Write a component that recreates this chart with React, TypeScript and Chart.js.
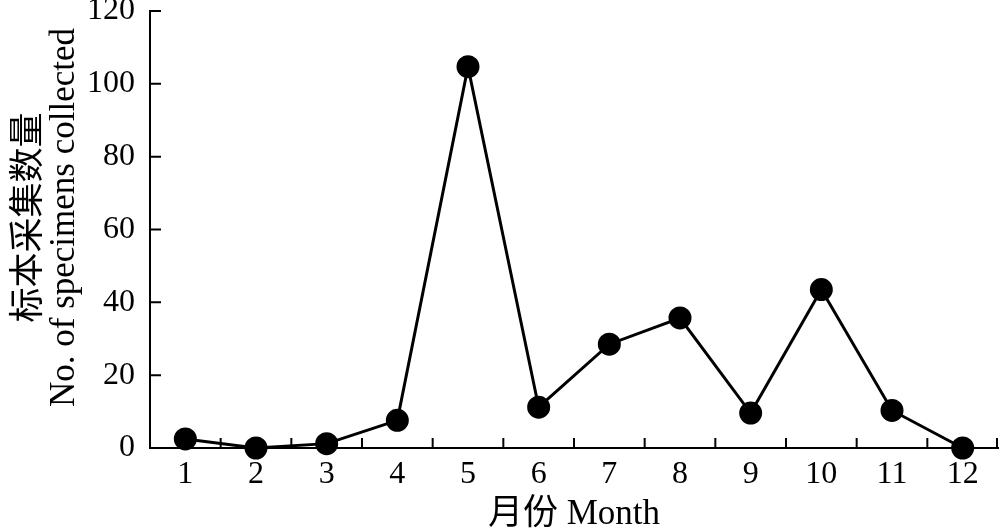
import React, { useEffect, useRef } from "react";
import { Chart, registerables } from "chart.js";

Chart.register(...registerables);

const months = ["1", "2", "3", "4", "5", "6", "7", "8", "9", "10", "11", "12"];
const specimens = [2.5, 0, 1.2, 7.6, 104.7, 11.2, 28.5, 35.7, 9.6, 43.5, 10.3, 0];
const yTickValues = [20, 40, 60, 80, 100, 120];
const yTitleLines = ["标本采集数量", "No. of specimens collected"];
const xTitle = "月份 Month";

const FONT = "'Liberation Serif', 'Times New Roman', 'Noto Sans CJK SC', serif";

const innerTicksPlugin = {
  id: "innerTicks",
  afterDraw(chart: any) {
    const ctx = chart.ctx;
    const x = chart.scales.x;
    const y = chart.scales.y;
    const area = chart.chartArea;
    ctx.save();
    ctx.strokeStyle = "#000";
    ctx.lineWidth = 2;
    ctx.beginPath();
    for (let i = 0; i < months.length; i++) {
      const px =
        i < months.length - 1
          ? (x.getPixelForValue(i) + x.getPixelForValue(i + 1)) / 2
          : area.right - 1;
      ctx.moveTo(px, area.bottom);
      ctx.lineTo(px, area.bottom - 10);
    }
    yTickValues.forEach((v) => {
      const py = y.getPixelForValue(v);
      ctx.moveTo(area.left, py);
      ctx.lineTo(area.left + 11, py);
    });
    ctx.stroke();

    ctx.fillStyle = "#000";
    ctx.font = `35px ${FONT}`;
    ctx.textAlign = "center";
    ctx.textBaseline = "middle";
    ctx.fillText(xTitle, (area.left + area.right) / 2, 515);
    const cy = (area.top + area.bottom) / 2 - 12;
    ctx.translate(30, cy);
    ctx.rotate(-Math.PI / 2);
    ctx.fillText(yTitleLines[0], 0, 0);
    ctx.fillText(yTitleLines[1], 0, 35);
    ctx.restore();
  },
};

export default function App() {
  const ref = useRef<HTMLCanvasElement | null>(null);
  useEffect(() => {
    if (!ref.current) return;
    const chart = new Chart(ref.current, {
      type: "line",
      data: {
        labels: months,
        datasets: [
          {
            data: specimens,
            borderColor: "#000",
            backgroundColor: "#000",
            borderWidth: 3,
            pointRadius: 10,
            pointHoverRadius: 10,
            pointBackgroundColor: "#000",
            pointBorderColor: "#000",
            tension: 0,
            clip: false as any,
          },
        ],
      },
      options: {
        animation: false,
        responsive: false,
        events: [],
        layout: { autoPadding: false, padding: { top: 11, right: 2, left: 0, bottom: 0 } },
        plugins: {
          legend: { display: false },
          tooltip: { enabled: false },
        },
        scales: {
          x: {
            type: "category",
            offset: true,
            grid: { display: false, drawTicks: false },
            border: { display: true, color: "#000", width: 2 },
            ticks: {
              color: "#000",
              font: { family: FONT, size: 32 },
              padding: 7,
              maxRotation: 0,
            },
            afterFit(scale: any) {
              scale.height = 83;
              scale.paddingLeft = 0;
              scale.paddingRight = 0;
            },
          },
          y: {
            min: 0,
            max: 120,
            grid: { display: false, drawTicks: false },
            border: { display: true, color: "#000", width: 2 },
            ticks: {
              stepSize: 20,
              color: "#000",
              font: { family: FONT, size: 32 },
              padding: 15,
            },
            afterFit(scale: any) {
              scale.width = 150;
              scale.paddingTop = 0;
              scale.paddingBottom = 0;
            },
          },
        },
      },
      plugins: [innerTicksPlugin],
    });
    return () => chart.destroy();
  }, []);
  return (
    <div style={{ position: "absolute", left: 0, top: 0, width: 1000, height: 531, background: "#fff" }}>
      <canvas ref={ref} width={1000} height={531} style={{ display: "block" }} />
    </div>
  );
}
